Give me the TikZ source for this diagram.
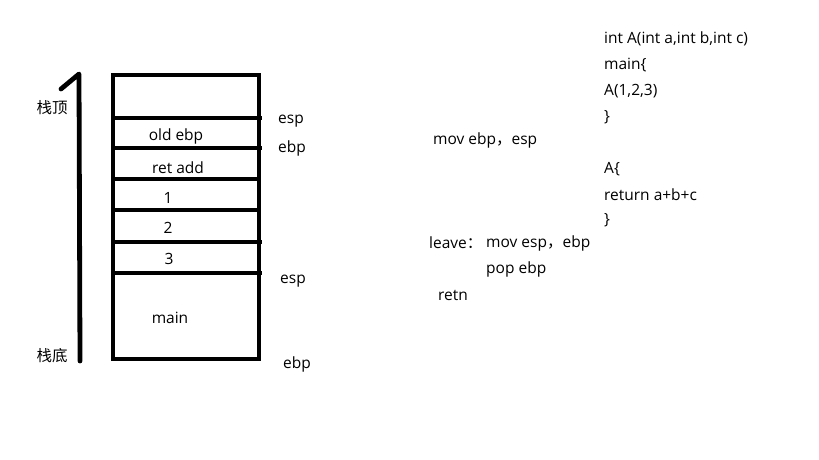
\documentclass[tikz,border=0pt]{standalone}
\usepackage{fontspec}
\setmainfont{Open Sans}
\newfontfamily\cjk{Noto Sans CJK SC}
\begin{document}
\begin{tikzpicture}[x=1pt,y=-1pt,
  thick line/.style={line width=4.8pt},
  lbl/.style={font=\fontsize{15.5}{17}\selectfont, text=black, inner sep=0pt, yshift=-2pt},
  code/.style={lbl, anchor=west},
  cell/.style={lbl}]
\useasboundingbox[fill=white] (0,0) rectangle (819,460);
% stack box
\draw[thick line] (113,75) rectangle (259,359);
\coordinate (r1) at (262,118);
\coordinate (r2) at (262,148);
\coordinate (r5) at (262,242);
\coordinate (r6) at (262,273);
\coordinate (l1) at (113,118);
\coordinate (l2) at (113,148);
\coordinate (l3) at (113,179);
\coordinate (l4) at (113,210);
\coordinate (l5) at (113,242);
\coordinate (l6) at (113,273);
\coordinate (r3) at (259,179);
\coordinate (r4) at (259,210);
\draw[thick line] (l1) -- (r1);
\draw[thick line] (l2) -- (r2);
\draw[thick line] (l3) -- (r3);
\draw[thick line] (l4) -- (r4);
\draw[thick line] (l5) -- (r5);
\draw[thick line] (l6) -- (r6);
% arrow-like stroke
\coordinate (h0) at (61,89);
\coordinate (h1) at (79,74);
\coordinate (h2) at (80,361);
\draw[thick line, line cap=round, line join=round] (h0) -- (h1) -- (h2);
\node[lbl] (top) at (52,106) {\cjk 栈顶};
\node[lbl] (bot) at (52,354) {\cjk 栈底};
% cells
\node[cell] (c0) at (176,134) {old ebp};
\node[cell] (c1) at (178,166) {ret add};
\node[cell] (c2) at (168,196) {1};
\node[cell] (c3) at (168,226) {2};
\node[cell] (c4) at (169,257) {3};
\node[cell] (c5) at (170,316) {main};
% register labels
\node[lbl] (e1) at (291,119) {esp};
\node[lbl] (e2) at (292,146) {ebp};
\node[lbl] (e3) at (293,279) {esp};
\node[lbl] (e4) at (297,362) {ebp};
% code
\node[code] (t1) at (604,37) {int A(int a,int b,int c)};
\node[code] (t2) at (604,63) {main\{};
\node[code] (t3) at (604,89) {A(1,2,3)};
\node[code] (t4) at (604,115) {\}};
\node[code] (t5) at (604,167) {A\{};
\node[code] (t6) at (604,193) {return a+b+c};
\node[code] (t7) at (604,218) {\}};
\node[code] (m1) at (433,138) {mov ebp{\cjk ，}esp};
\node[code] (m2) at (429,241) {leave{\cjk ：}};
\node[code] (m3) at (486,241) {mov esp{\cjk ，}ebp};
\node[code] (m4) at (486,267) {pop ebp};
\node[code] (m5) at (438,293) {retn};
\end{tikzpicture}
\end{document}
